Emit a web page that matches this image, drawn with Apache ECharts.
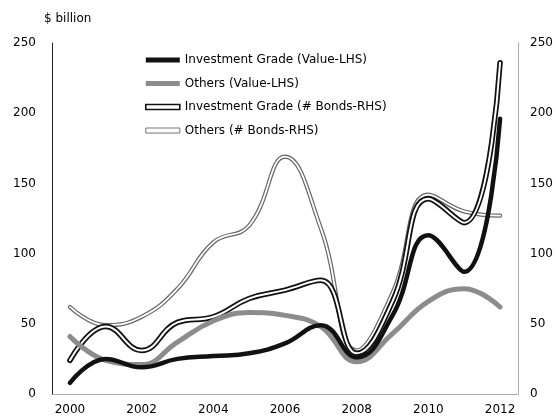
<!DOCTYPE html>
<html>
<head>
<meta charset="utf-8">
<script src="https://cdn.jsdelivr.net/npm/echarts@6/dist/echarts.min.js"></script>
<style>
  html, body { margin: 0; padding: 0; background: #fff; }
  #chart { width: 556px; height: 416px; }
</style>
</head>
<body>
<div id="chart"></div>
<script>
// ---- data ----
const years = ['2000', '2001', '2002', '2003', '2004', '2005', '2006',
  '2007', '2008', '2009', '2010', '2011', '2012']
const igValue = [8, 25, 19, 25, 27, 29, 36, 49, 26, 56, 113, 87, 196]
const othersValue = [41, 24, 21, 37, 52, 58, 56, 48, 23, 43, 66, 75, 62]
const igBonds = [24, 48, 31, 51, 55, 68, 74, 81, 29, 66, 139, 122, 236]
const othersBonds = [62, 49, 55, 75, 108, 120, 169, 118, 31, 72, 142, 130, 127]
const leftTicks = { min: 0, max: 250, interval: 50 }

const FONT = 'DejaVu Sans'
const chart = echarts.init(document.getElementById('chart'))

// 双线效果：先画粗的描边线，再在上面画细白线
function lineSeries(name, data, color, width, yIndex, z) {
  return {
    name, type: 'line', data, yAxisIndex: yIndex,
    smooth: 0.45, symbol: 'none', z,
    lineStyle: { color, width, cap: 'round' },
    emphasis: { disabled: true }
  }
}

chart.setOption({
  animation: false,
  textStyle: { fontFamily: FONT },
  grid: { left: 52, right: 38, top: 43, bottom: 22 },
  graphic: [{
    type: 'text', left: 44, top: 13,
    style: { text: '$ billion', font: '12px "DejaVu Sans"', fill: '#000' }
  }],
  legend: {
    orient: 'vertical', left: 145, top: 53, padding: 0,
    itemWidth: 34, itemHeight: 5, itemGap: 9.5,
    textStyle: { fontFamily: FONT, fontSize: 12, color: '#000', lineHeight: 14 },
    data: [
      { name: 'Investment Grade (Value-LHS)', icon: 'rect', itemStyle: { color: '#111' } },
      { name: 'Others (Value-LHS)', icon: 'rect', itemStyle: { color: '#8c8c8c' } },
      { name: 'Investment Grade (# Bonds-RHS)', icon: 'rect',
        itemStyle: { color: '#fff', borderColor: '#111', borderWidth: 1.6 } },
      { name: 'Others (# Bonds-RHS)', icon: 'rect',
        itemStyle: { color: '#fff', borderColor: '#777', borderWidth: 1 } }
    ]
  },
  xAxis: {
    type: 'category', data: years, boundaryGap: true,
    axisLine: { lineStyle: { color: '#999', type: 'dotted', width: 1 } },
    axisTick: { show: false },
    axisLabel: { interval: 1, color: '#000', fontSize: 12, margin: 10 },
    splitLine: { show: false }
  },
  yAxis: [{
    type: 'value', ...leftTicks,
    axisLine: { show: true, lineStyle: { color: '#222', width: 1 } },
    axisTick: { show: false },
    axisLabel: { color: '#000', fontSize: 12, margin: 16 },
    splitLine: { show: false }
  }, {
    type: 'value', position: 'right', ...leftTicks,
    axisLine: { show: true, lineStyle: { color: '#999', type: 'dotted', width: 1 } },
    axisTick: { show: false },
    axisLabel: { color: '#000', fontSize: 12, margin: 12 },
    splitLine: { show: false }
  }],
  series: [
    lineSeries('Others (# Bonds-RHS)', othersBonds, '#666', 4.2, 1, 2),
    lineSeries('othersBondsInner', othersBonds, '#fff', 1.8, 1, 3),
    lineSeries('Investment Grade (# Bonds-RHS)', igBonds, '#111', 5.5, 1, 4),
    lineSeries('igBondsInner', igBonds, '#fff', 2, 1, 5),
    lineSeries('Others (Value-LHS)', othersValue, '#8c8c8c', 5, 0, 6),
    lineSeries('Investment Grade (Value-LHS)', igValue, '#111', 4.5, 0, 7)
  ]
})
</script>
</body>
</html>
